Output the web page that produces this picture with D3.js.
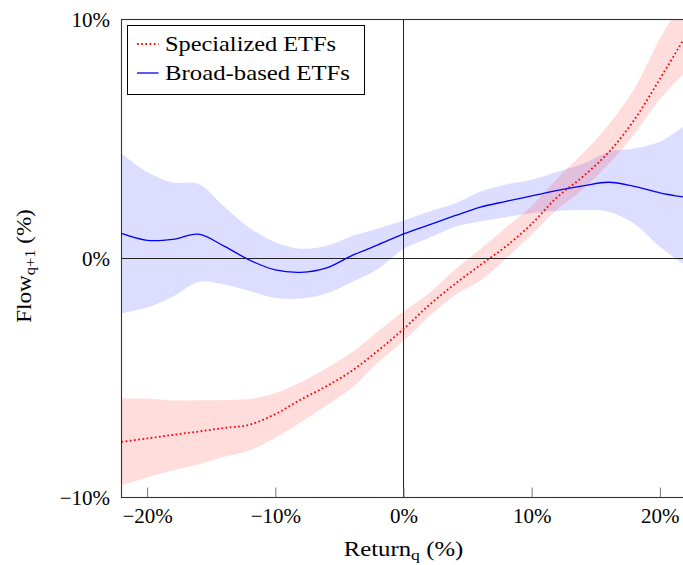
<!DOCTYPE html>
<html>
<head>
<meta charset="utf-8">
<script src="https://cdn.jsdelivr.net/npm/d3@7"></script>
<style>
    body { margin: 0; background: #fff; overflow: hidden; }
    text { font-family: "Liberation Serif", "DejaVu Serif", serif; fill: #000; }
</style>
</head>
<body>
<div id="chart"></div>
<script>
// returns grid (%)
const returns = [-22, -20, -18, -16, -14, -12, -10, -8, -6, -4, -2, 0, 2, 4, 6, 8, 10, 12, 14, 16, 18, 20, 22];

// Specialized ETFs: mean flow and band (%)
const specMean  = [-7.67, -7.53, -7.38, -7.24, -7.09, -6.95, -6.51, -5.90, -5.34, -4.69, -3.86, -2.95, -1.95, -1.07, -0.27, 0.51, 1.45, 2.57, 3.43, 4.44, 5.80, 7.51, 9.30];
const specUpper = [-5.86, -5.86, -5.94, -5.93, -5.92, -5.88, -5.63, -5.17, -4.58, -3.91, -3.05, -2.21, -1.45, -0.47, 0.40, 1.30, 2.20, 3.35, 4.40, 5.60, 7.10, 9.20, 11.0];
const specLower = [-9.49, -9.16, -8.87, -8.62, -8.30, -8.03, -7.50, -6.85, -6.15, -5.40, -4.35, -3.45, -2.43, -1.55, -0.92, 0.00, 1.00, 2.05, 2.90, 3.95, 5.20, 6.67, 7.80];

// Broad-based ETFs: mean flow and band (%)
const broadMean  = [1.05, 0.76, 0.80, 1.02, 0.52, -0.07, -0.48, -0.58, -0.39, 0.13, 0.57, 1.03, 1.41, 1.79, 2.15, 2.39, 2.62, 2.85, 3.04, 3.19, 3.02, 2.75, 2.56];
const broadUpper = [4.39, 3.62, 3.18, 3.12, 2.18, 1.28, 0.68, 0.41, 0.53, 0.94, 1.26, 1.59, 1.97, 2.30, 2.80, 3.10, 3.30, 3.63, 3.96, 4.46, 4.60, 4.88, 5.59];
const broadLower = [-2.29, -2.05, -1.60, -0.98, -1.09, -1.36, -1.65, -1.67, -1.46, -0.98, -0.44, 0.40, 0.86, 1.32, 1.56, 1.73, 1.89, 2.00, 2.03, 1.96, 1.45, 0.49, -0.30];

const xTicks = [-20, -10, 0, 10, 20];
const yTicks = [-10, 0, 10];
const seriesNames = ['Specialized ETFs', 'Broad-based ETFs'];

function flowChart({
    bind = null,
    width = 683,
    height = 565,
    margin = {top: 19.5, right: -2.5, bottom: 67.5, left: 121.5},
} = {}) {

    const w = width - margin.left - margin.right;
    const h = height - margin.top - margin.bottom;

    bind.selectAll('svg').remove();
    const svg = bind.append('svg')
        .attr('width', width)
        .attr('height', height);

    const g = svg.append('g')
        .attr('transform', `translate(${margin.left},${margin.top})`);

    const x = d3.scaleLinear().domain([-22, 22]).range([0, w]);
    const y = d3.scaleLinear().domain([-10, 10]).range([h, 0]);

    g.append('clipPath').attr('id', 'plot-clip')
        .append('rect').attr('width', w).attr('height', h);

    const spec = returns.map((r, i) => ({r, m: specMean[i], lo: specLower[i], hi: specUpper[i]}));
    const broad = returns.map((r, i) => ({r, m: broadMean[i], lo: broadLower[i], hi: broadUpper[i]}));

    const curve = d3.curveCatmullRom.alpha(0.5);
    const area = d3.area()
        .x(d => x(d.r))
        .y0(d => y(d.lo))
        .y1(d => y(d.hi))
        .curve(curve);
    const line = d3.line()
        .x(d => x(d.r))
        .y(d => y(d.m))
        .curve(curve);

    const plot = g.append('g').attr('clip-path', 'url(#plot-clip)');

    // bands
    plot.append('path').datum(broad)
        .attr('d', area)
        .attr('fill', 'rgb(0,0,255)')
        .attr('fill-opacity', 0.135);
    plot.append('path').datum(spec)
        .attr('d', area)
        .attr('fill', 'rgb(255,0,0)')
        .attr('fill-opacity', 0.135);

    // zero lines
    plot.append('line')
        .attr('x1', 0).attr('x2', w)
        .attr('y1', y(0)).attr('y2', y(0))
        .attr('stroke', '#222').attr('stroke-width', 1);
    plot.append('line')
        .attr('x1', x(0)).attr('x2', x(0))
        .attr('y1', 0).attr('y2', h)
        .attr('stroke', '#222').attr('stroke-width', 1);

    // mean lines
    plot.append('path').datum(broad)
        .attr('d', line)
        .attr('fill', 'none')
        .attr('stroke', '#0000ff')
        .attr('stroke-width', 1.3);
    plot.append('path').datum(spec)
        .attr('d', line)
        .attr('fill', 'none')
        .attr('stroke', '#ff0000')
        .attr('stroke-width', 1.8)
        .attr('stroke-dasharray', '1.7,2.5');

    // x axis (ticks point inwards)
    const xAxis = g.append('g')
        .attr('transform', `translate(0,${h})`)
        .call(d3.axisBottom(x)
            .tickValues(xTicks)
            .tickSizeInner(-10)
            .tickSizeOuter(0)
            .tickFormat(d => d3.format('d')(d) + '%'));
    xAxis.select('.domain').remove();
    xAxis.selectAll('.tick line').attr('stroke', '#777').attr('stroke-width', 1);
    xAxis.selectAll('.tick text')
        .attr('y', 25.5).attr('dy', null)
        .style('font-size', '21px');

    const yAxis = g.append('g')
        .call(d3.axisLeft(y)
            .tickValues(yTicks)
            .tickSize(0)
            .tickPadding(11.5)
            .tickFormat(d => d3.format('d')(d) + '%'));
    yAxis.select('.domain').remove();
    yAxis.selectAll('.tick text')
        .attr('dy', '0.32em')
        .style('font-size', '21px');

    // frame
    g.append('rect')
        .attr('width', w).attr('height', h)
        .attr('fill', 'none')
        .attr('stroke', '#333')
        .attr('stroke-width', 1.1);

    // axis titles (widened a little to match the original serif font)
    const xTitle = svg.append('g')
        .attr('transform', 'translate(403.5,556) scale(1.18,1)')
        .append('text')
        .attr('text-anchor', 'middle')
        .style('font-size', '21px');
    xTitle.append('tspan').text('Return');
    xTitle.append('tspan').attr('dy', 4).style('font-size', '15px').text('q');
    xTitle.append('tspan').attr('dy', -4).text('\u00a0(%)');

    const yTitle = svg.append('g')
        .attr('transform', 'translate(31,266) rotate(-90) scale(1.1,1)')
        .append('text')
        .attr('text-anchor', 'middle')
        .style('font-size', '21px');
    yTitle.append('tspan').text('Flow');
    yTitle.append('tspan').attr('dy', 4).style('font-size', '15px').text('q+1');
    yTitle.append('tspan').attr('dy', -4).text('\u00a0(%)');

    // legend
    const legend = svg.append('g').attr('transform', 'translate(127.5,25.5)');
    legend.append('rect')
        .attr('width', 237).attr('height', 69)
        .attr('fill', '#fff')
        .attr('stroke', '#000')
        .attr('stroke-width', 1);
    const styles = [
        {stroke: '#ff0000', width: 1.8, dash: '1.7,2.5'},
        {stroke: '#0000ff', width: 1.3, dash: null},
    ];
    const textLen = [171, 185];
    const rows = legend.selectAll('g.row')
        .data(seriesNames)
        .join('g')
        .classed('row', true)
        .attr('transform', (d, i) => `translate(0,${18.5 + i * 29})`);
    rows.append('line')
        .attr('x1', 9.5).attr('x2', 31)
        .attr('stroke', (d, i) => styles[i].stroke)
        .attr('stroke-width', (d, i) => styles[i].width)
        .attr('stroke-dasharray', (d, i) => styles[i].dash);
    rows.append('text')
        .attr('x', 37.5).attr('y', 7)
        .attr('textLength', (d, i) => textLen[i])
        .attr('lengthAdjust', 'spacingAndGlyphs')
        .style('font-size', '21px')
        .text(d => d);
}

flowChart({bind: d3.select('#chart')});
</script>
</body>
</html>
